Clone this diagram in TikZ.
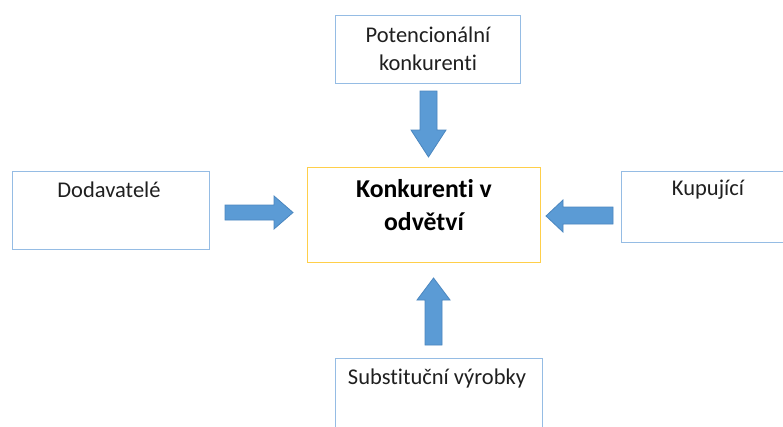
\documentclass[tikz,border=0pt]{standalone}
\usepackage{fontspec}
\setmainfont{Carlito}[Ligatures=NoCommon]
\begin{document}
\begin{tikzpicture}[x=1pt,y=-1pt,
  box/.style={draw=boxblue,line width=1pt,fill=white,inner sep=0pt},
  cbox/.style={draw=cyellow,line width=1pt,fill=white,inner sep=0pt},
  lbl/.style={font=\fontsize{22.5}{28}\selectfont,align=center,text=black!88,inner sep=0pt},
  blbl/.style={font=\fontsize{25.7}{33}\selectfont\bfseries,align=center,inner sep=0pt},
  barrow/.style={fill=arrfill,draw=arrdraw,line width=0.8pt,line join=miter}]
\definecolor{boxblue}{HTML}{95BCE4}
\definecolor{cyellow}{HTML}{FFCF4A}
\definecolor{arrfill}{HTML}{5B9BD5}
\definecolor{arrdraw}{HTML}{4A86BF}
\useasboundingbox (0,0) rectangle (783,426);
\fill[white] (0,0) rectangle (783,426);
\clip (0,0) rectangle (783,426);
% boxes
\draw[box] (335,15) rectangle (520,83);
\node[lbl] (pot) at (428,49) {Potencionální\\konkurenti};
\draw[box] (12,171) rectangle (209,249);
\node[lbl] (dod) at (109,190) {Dodavatelé};
\draw[box] (621,171) rectangle (800,242);
\node[lbl] (kup) at (708,190) {Kupující};
\draw[box] (335,358) rectangle (542,440);
\node[lbl] (sub) at (437,378) {Substituční výrobky};
\draw[cbox] (307,167) rectangle (540,262);
\node[blbl] (kon) at (424,205.5) {Konkurenti v\\odvětví};
% block arrows
\draw[barrow] (420,91) -- (437,91) -- (437,130) -- (446,130) -- (428.5,157) -- (411,130) -- (420,130) -- cycle;
\draw[barrow] (225,205) -- (274,205) -- (274,196) -- (293,212.5) -- (274,229) -- (274,220) -- (225,220) -- cycle;
\draw[barrow] (613,207) -- (563,207) -- (563,200) -- (546,216) -- (563,232) -- (563,224) -- (613,224) -- cycle;
\draw[barrow] (425,345) -- (442,345) -- (442,300) -- (450,300) -- (433.5,278) -- (417,300) -- (425,300) -- cycle;
\end{tikzpicture}
\end{document}
